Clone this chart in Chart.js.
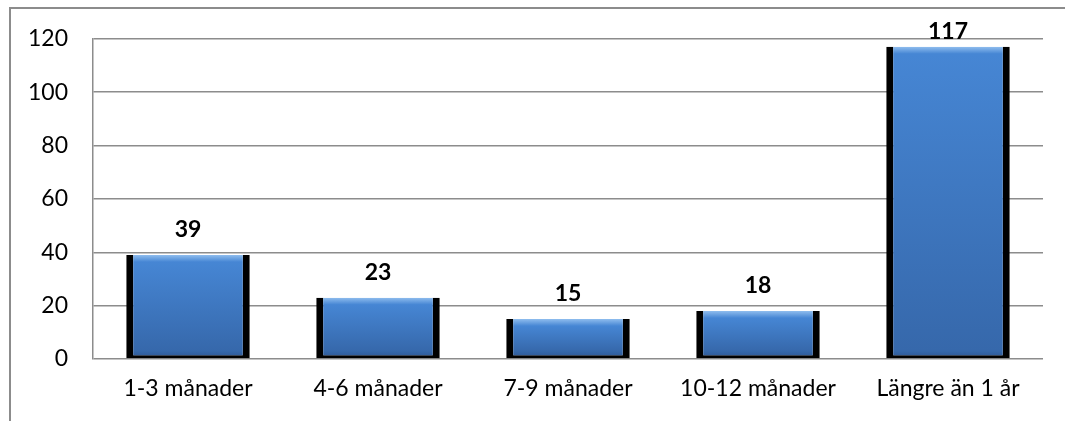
<!DOCTYPE html>
<html>
<head>
<meta charset="utf-8">
<script src="https://cdn.jsdelivr.net/npm/chart.js@4/dist/chart.umd.min.js"></script>
<style>
  html, body { margin: 0; padding: 0; background: #fff; }
  #wrap { width: 1065px; height: 421px; }
</style>
</head>
<body>
<div id="wrap"><canvas id="c" width="1065" height="421"></canvas></div>
<script>
const categories = ['1-3 månader', '4-6 månader', '7-9 månader', '10-12 månader', 'Längre än 1 år'];
const values = [39, 23, 15, 18, 117];
const yTicks = [0, 20, 40, 60, 80, 100, 120];

const FONT = 'Lato, "Open Sans", sans-serif';

// frame round the whole chart (only top and left show in the picture)
const framePlugin = {
    id: 'frame',
    beforeDraw(chart) {
        const ctx = chart.ctx;
        ctx.save();
        ctx.strokeStyle = '#8c8c8c';
        ctx.lineWidth = 2;
        ctx.beginPath();
        ctx.moveTo(10, chart.height + 5);
        ctx.lineTo(10, 8);
        ctx.lineTo(chart.width + 5, 8);
        ctx.stroke();
        ctx.restore();
    }
};

// value labels above the bars, kept from running above the frame
const valueLabels = {
    id: 'valueLabels',
    afterDatasetsDraw(chart) {
        const ctx = chart.ctx;
        const meta = chart.getDatasetMeta(0);
        ctx.save();
        ctx.font = 'bold 23px ' + FONT;
        ctx.fillStyle = '#000';
        ctx.textAlign = 'center';
        ctx.textBaseline = 'alphabetic';
        meta.data.forEach((bar, i) => {
            const yb = Math.max(bar.y - 18, chart.chartArea.top);
            ctx.fillText(String(values[i]), bar.x, yb);
        });
        ctx.restore();
    }
};

function barFill(context) {
    const chart = context.chart;
    if (!chart.chartArea || context.raw === undefined) return '#3d7cc9';
    const y = chart.scales.y;
    const top = y.getPixelForValue(context.raw);
    const base = y.getPixelForValue(0);
    const h = Math.max(base - top, 1);
    const g = chart.ctx.createLinearGradient(0, top, 0, base);
    g.addColorStop(0, '#8fbdee');
    g.addColorStop(Math.min(0.3, 7 / h), '#4686d4');
    g.addColorStop(Math.max(0.5, 1 - 8 / h), '#3668ab');
    g.addColorStop(1, '#2b5590');
    return g;
}

new Chart(document.getElementById('c'), {
    type: 'bar',
    data: {
        labels: categories,
        datasets: [{
            data: values,
            backgroundColor: barFill,
            borderColor: '#000',
            borderWidth: { left: 7, right: 7, bottom: 3, top: 0 },
            borderSkipped: false,
            categoryPercentage: 1,
            barPercentage: 0.65
        }]
    },
    options: {
        responsive: false,
        animation: false,
        devicePixelRatio: 1,
        layout: { padding: { left: 20, right: 22, top: 38, bottom: 0 } },
        plugins: {
            legend: { display: false },
            tooltip: { enabled: false }
        },
        scales: {
            x: {
                grid: { display: false },
                border: { display: false },
                ticks: { color: '#000', font: { family: FONT, size: 23 }, padding: 8 },
                afterFit(s) { s.height = 62; }
            },
            y: {
                min: 0,
                max: 120,
                afterBuildTicks(s) { s.ticks = yTicks.map(v => ({ value: v })); },
                grid: { color: '#8c8c8c', lineWidth: 1.5, drawTicks: false },
                border: { display: true, color: '#8c8c8c', width: 1.5 },
                ticks: { color: '#000', font: { family: FONT, size: 23 }, padding: 25 },
                afterFit(s) { s.width = 73; }
            }
        }
    },
    plugins: [framePlugin, valueLabels]
});
</script>
</body>
</html>
